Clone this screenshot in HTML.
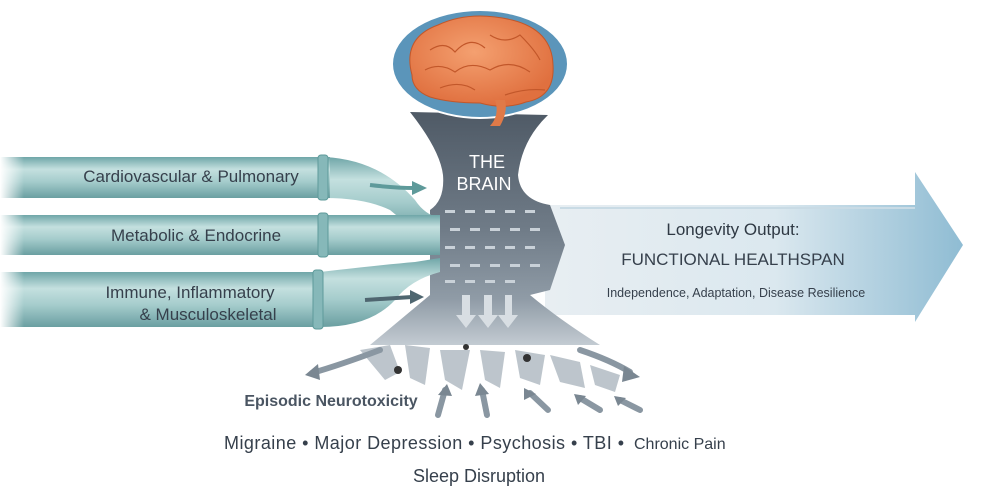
<!DOCTYPE html>
<html><head><meta charset="utf-8"><style>
html,body{margin:0;padding:0;background:#fff}
svg{display:block}
text{font-family:"Liberation Sans",sans-serif;fill:#36404c}
</style></head><body>
<svg width="986" height="495" viewBox="0 0 986 495" xmlns="http://www.w3.org/2000/svg">
<defs>
<linearGradient id="tube" x1="0" y1="0" x2="0" y2="1">
<stop offset="0" stop-color="#6fa6a8"/><stop offset="0.3" stop-color="#c4e0df"/><stop offset="0.6" stop-color="#a5cccc"/><stop offset="1" stop-color="#6a9fa1"/></linearGradient>
<linearGradient id="fadeL" x1="0" x2="1" y1="0" y2="0">
<stop offset="0" stop-color="#fff" stop-opacity="1"/><stop offset="0.12" stop-color="#fff" stop-opacity="0"/></linearGradient>
<linearGradient id="arr" x1="0" x2="1" y1="0" y2="0">
<stop offset="0" stop-color="#e8eef2"/><stop offset="0.55" stop-color="#dbe8ef"/><stop offset="1" stop-color="#8fbcd3"/></linearGradient>
<linearGradient id="fun" x1="0" x2="0" y1="0" y2="1">
<stop offset="0" stop-color="#4f5a66"/><stop offset="0.5" stop-color="#6f7b87"/><stop offset="0.8" stop-color="#8f9ba6"/><stop offset="1" stop-color="#c3cbd2"/></linearGradient>
<radialGradient id="brain" cx="0.45" cy="0.4" r="0.6">
<stop offset="0" stop-color="#f4a070"/><stop offset="1" stop-color="#e0703f"/></radialGradient>
</defs>

<path d="M545 205 L915 205 L915 172 L963 245 L915 322 L915 315 L545 315 Z" fill="url(#arr)"/>
<line x1="560" y1="208" x2="915" y2="208" stroke="#c9dbe5" stroke-width="2"/>

<path d="M410 112 Q440 150 443 175 Q445 200 430 210 L430 295 Q400 320 370 345 L600 345 Q560 320 530 295 L550 290 L565 245 L550 205 Q520 200 518 175 Q522 140 548 115 Z" fill="url(#fun)"/>
<g fill="#a7b2bb" opacity="0.75">
<path d="M360 350 L390 345 L400 372 L385 380Z"/><path d="M405 345 L430 348 L425 385 L410 378Z"/><path d="M440 350 L470 350 L462 390 L445 380Z"/><path d="M480 350 L505 352 L500 388 L485 380Z"/><path d="M515 350 L545 355 L540 385 L520 378Z"/><path d="M550 355 L580 362 L585 388 L560 382Z"/><path d="M590 365 L620 375 L615 392 L595 385Z"/>
</g>
<g fill="#c9d1d8">
<rect x="445" y="210" width="10" height="3"/><rect x="465" y="210" width="10" height="3"/><rect x="485" y="210" width="10" height="3"/><rect x="505" y="210" width="10" height="3"/><rect x="525" y="210" width="10" height="3"/>
<rect x="450" y="228" width="10" height="3"/><rect x="470" y="228" width="10" height="3"/><rect x="490" y="228" width="10" height="3"/><rect x="510" y="228" width="10" height="3"/><rect x="530" y="228" width="10" height="3"/>
<rect x="445" y="246" width="10" height="3"/><rect x="465" y="246" width="10" height="3"/><rect x="485" y="246" width="10" height="3"/><rect x="505" y="246" width="10" height="3"/><rect x="525" y="246" width="10" height="3"/>
<rect x="450" y="264" width="10" height="3"/><rect x="470" y="264" width="10" height="3"/><rect x="490" y="264" width="10" height="3"/><rect x="510" y="264" width="10" height="3"/><rect x="530" y="264" width="10" height="3"/>
<rect x="445" y="280" width="10" height="3"/><rect x="465" y="280" width="10" height="3"/><rect x="485" y="280" width="10" height="3"/><rect x="505" y="280" width="10" height="3"/>
</g>
<g fill="#d8dee3">
<path d="M462 295 L470 295 L470 315 L476 315 L466 328 L456 315 L462 315Z"/>
<path d="M484 295 L492 295 L492 315 L498 315 L488 328 L478 315 L484 315Z"/>
<path d="M505 295 L512 295 L512 315 L518 315 L508 328 L498 315 L505 315Z"/>
</g>
<circle cx="398" cy="370" r="4" fill="#333"/><circle cx="466" cy="347" r="3" fill="#333"/><circle cx="527" cy="358" r="4" fill="#333"/>

<g stroke="#8a97a2" stroke-width="6" fill="none" stroke-linecap="round">
<path d="M380 350 Q340 365 312 373"/><path d="M580 350 Q610 360 630 372"/>
<path d="M438 415 L445 390"/><path d="M487 415 L482 390"/><path d="M548 410 L530 393"/><path d="M600 410 L580 398"/><path d="M640 410 L620 400"/>
</g>
<g fill="#7a8792">
<path d="M305 375 L318 364 L320 380Z"/><path d="M640 377 L624 366 L622 382Z"/>
<path d="M447 384 L438 395 L452 396Z"/><path d="M480 383 L475 396 L489 394Z"/><path d="M524 388 L524 400 L536 394Z"/><path d="M574 394 L578 405 L586 396Z"/><path d="M614 396 L618 406 L626 398Z"/>
</g>

<ellipse cx="480" cy="64" rx="88" ry="54" fill="#5b95ba" stroke="#fff" stroke-width="2"/>
<path d="M412 75 Q402 38 438 25 Q470 10 512 20 Q552 30 553 65 Q555 97 526 102 Q505 110 480 103 Q450 103 430 97 Q412 90 412 75Z" fill="url(#brain)" stroke="#c2572a" stroke-width="1"/>
<path d="M495 100 Q500 115 490 126 L500 126 Q508 112 505 100Z" fill="#e07a48"/>
<g stroke="#c2572a" stroke-width="1.2" fill="none">
<path d="M430 50 Q445 40 455 52 Q470 35 485 48"/><path d="M490 35 Q505 45 520 35 Q535 50 540 60"/><path d="M425 70 Q440 62 455 72 Q470 60 490 70 Q510 58 530 72"/><path d="M440 88 Q460 80 475 90"/><path d="M505 95 Q525 88 545 90"/></g>

<path d="M325 157 Q380 160 415 200 Q425 215 440 218 L440 232 Q410 228 390 210 Q365 198 325 198Z" fill="url(#tube)"/>
<rect x="0" y="157" width="330" height="41" fill="url(#tube)"/>
<rect x="318" y="155" width="10" height="45" rx="3" fill="#86b8b9" stroke="#5e9a9a"/>
<rect x="0" y="215" width="440" height="40" fill="url(#tube)"/>
<rect x="318" y="213" width="10" height="44" rx="3" fill="#86b8b9" stroke="#5e9a9a"/>
<path d="M320 272 Q380 265 415 262 L440 258 L440 272 Q410 280 395 300 Q370 327 320 327Z" fill="url(#tube)"/>
<rect x="0" y="272" width="320" height="55" fill="url(#tube)"/>
<rect x="313" y="270" width="10" height="59" rx="3" fill="#86b8b9" stroke="#5e9a9a"/>
<rect x="0" y="150" width="200" height="185" fill="url(#fadeL)"/>
<path d="M370 185 Q395 188 415 188" stroke="#5e9a9a" stroke-width="4" fill="none"/><path d="M412 181 L427 188 L412 195Z" fill="#5e9a9a"/>
<path d="M365 300 Q395 298 412 297" stroke="#4f6670" stroke-width="4" fill="none"/><path d="M410 290 L424 297 L410 304Z" fill="#4f6670"/>

<text x="191" y="182" font-size="17" text-anchor="middle">Cardiovascular &amp; Pulmonary</text>
<text x="196" y="241" font-size="17" text-anchor="middle">Metabolic &amp; Endocrine</text>
<text x="190" y="298" font-size="17" text-anchor="middle">Immune, Inflammatory</text>
<text x="208" y="320" font-size="17" text-anchor="middle">&amp; Musculoskeletal</text>
<text x="487" y="168" font-size="18" text-anchor="middle" style="fill:#fff">THE</text>
<text x="484" y="190" font-size="18" text-anchor="middle" style="fill:#fff">BRAIN</text>
<text x="733" y="235" font-size="17" text-anchor="middle" style="fill:#2f3944">Longevity Output:</text>
<text x="733" y="265" font-size="17" text-anchor="middle">FUNCTIONAL HEALTHSPAN</text>
<text x="736" y="297" font-size="12.5" text-anchor="middle">Independence, Adaptation, Disease Resilience</text>
<text x="331" y="406" font-size="16" text-anchor="middle" font-weight="bold" style="fill:#4a5562">Episodic Neurotoxicity</text>
<text x="224" y="449" font-size="18" textLength="400" lengthAdjust="spacing">Migraine  •  Major Depression  •  Psychosis  •  TBI  •</text>
<text x="634" y="449" font-size="16">Chronic Pain</text>
<text x="479" y="482" font-size="18" text-anchor="middle">Sleep Disruption</text>
</svg>
</body></html>
